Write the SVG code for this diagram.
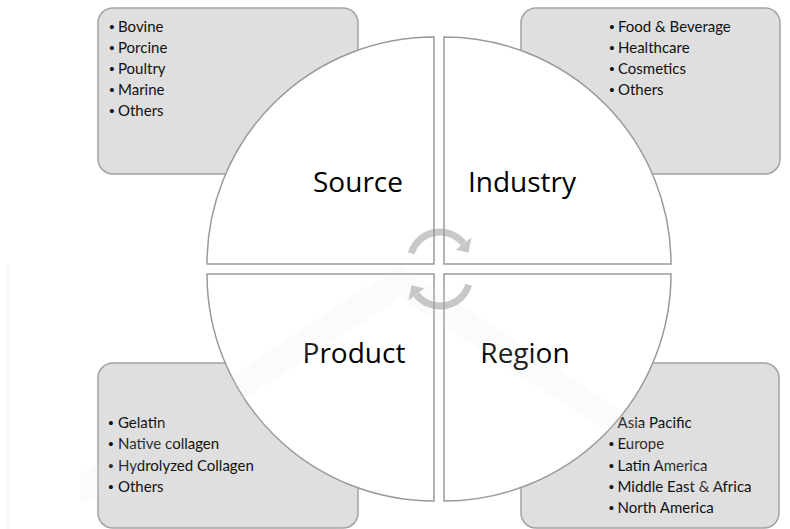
<svg xmlns="http://www.w3.org/2000/svg" width="790" height="529" viewBox="0 0 790 529">
  <style>
    .box { fill: #dfdfdf; stroke: #a3a3a3; stroke-width: 1.5; }
    .quad { fill: #ffffff; stroke: #9a9a9a; stroke-width: 1.5; }
    .item { font-family: Lato, "Open Sans", "Liberation Sans", sans-serif; font-size: 15px; fill: #111; }
    .dot { font-family: "Liberation Sans", sans-serif; font-size: 15px; fill: #111; text-anchor: middle; }
    .title { font-family: "Open Sans", "Liberation Sans", sans-serif; font-size: 28px; fill: #000; text-anchor: middle; }
    .cyc { fill: #9c9c9c; }
  </style>
  <defs>
    <!-- one curved arrow of the central cycle; the second is this one turned half round -->
    <g id="cycleArrow">
      <path d="M411.3,253.2 A30,30 0 0 1 463.6,243.5" fill="none" stroke="#9c9c9c" stroke-width="7"/>
      <polygon class="cyc" points="471.5,237.4 455.7,249.7 468.5,252.7"/>
    </g>
  </defs>

  <rect width="790" height="529" fill="#ffffff"/>
  <line x1="8" y1="263" x2="8" y2="529" stroke="#f1f1f1" stroke-width="1"/>

  <!-- category boxes -->
  <g id="source-box">
    <rect class="box" x="98" y="8" width="260" height="166" rx="15"/>
    <text class="dot" x="112" y="31.5">•</text><text class="item" x="118" y="31.5">Bovine</text>
    <text class="dot" x="112" y="52.6">•</text><text class="item" x="118" y="52.6">Porcine</text>
    <text class="dot" x="112" y="73.7">•</text><text class="item" x="118" y="73.7">Poultry</text>
    <text class="dot" x="112" y="94.8">•</text><text class="item" x="118" y="94.8">Marine</text>
    <text class="dot" x="112" y="115.9">•</text><text class="item" x="118" y="115.9">Others</text>
  </g>
  <g id="industry-box">
    <rect class="box" x="521" y="8" width="259" height="166" rx="15"/>
    <text class="dot" x="612" y="31.5">•</text><text class="item" x="618" y="31.5">Food &amp; Beverage</text>
    <text class="dot" x="612" y="52.6">•</text><text class="item" x="618" y="52.6">Healthcare</text>
    <text class="dot" x="612" y="73.7">•</text><text class="item" x="618" y="73.7">Cosmetics</text>
    <text class="dot" x="612" y="94.8">•</text><text class="item" x="618" y="94.8">Others</text>
  </g>
  <g id="product-box">
    <rect class="box" x="98" y="363" width="260" height="165" rx="15"/>
    <text class="dot" x="111" y="428.3">•</text><text class="item" x="118" y="428.3">Gelatin</text>
    <text class="dot" x="111" y="449.4">•</text><text class="item" x="118" y="449.4">Native collagen</text>
    <text class="dot" x="111" y="470.5">•</text><text class="item" x="118" y="470.5">Hydrolyzed Collagen</text>
    <text class="dot" x="111" y="491.6">•</text><text class="item" x="118" y="491.6">Others</text>
  </g>
  <g id="region-box">
    <rect class="box" x="521" y="363" width="258" height="165" rx="15"/>
    <text class="dot" x="611.5" y="428.3">•</text><text class="item" x="617.5" y="428.3">Asia Pacific</text>
    <text class="dot" x="611.5" y="449.4">•</text><text class="item" x="617.5" y="449.4">Europe</text>
    <text class="dot" x="611.5" y="470.5">•</text><text class="item" x="617.5" y="470.5">Latin America</text>
    <text class="dot" x="611.5" y="491.6">•</text><text class="item" x="617.5" y="491.6">Middle East &amp; Africa</text>
    <text class="dot" x="611.5" y="512.7">•</text><text class="item" x="617.5" y="512.7">North America</text>
  </g>

  <!-- quarter-circle segments -->
  <g id="source">
    <path class="quad" d="M434,264 L207,264 A227,227 0 0 1 434,37 Z"/>
    <text class="title" x="358" y="192">Source</text>
  </g>
  <g id="industry">
    <path class="quad" d="M444,264 L444,37 A227,227 0 0 1 671,264 Z"/>
    <text class="title" x="522" y="192">Industry</text>
  </g>
  <g id="region">
    <path class="quad" d="M444,274 L671,274 A227,227 0 0 1 444,501 Z"/>
    <text class="title" x="525" y="363">Region</text>
  </g>
  <g id="product">
    <path class="quad" d="M434,274 L434,501 A227,227 0 0 1 207,274 Z"/>
    <text class="title" x="354" y="363">Product</text>
  </g>

  <!-- faint background emblem -->
  <polygon points="400,265 720,475 720,505 400,298 80,505 80,475" fill="#e4e4e4" opacity="0.14"/>

  <!-- central cycle arrows -->
  <g id="connectors" opacity="0.55">
    <use href="#cycleArrow"/>
    <use href="#cycleArrow" transform="rotate(180 440 269)"/>
  </g>
</svg>
